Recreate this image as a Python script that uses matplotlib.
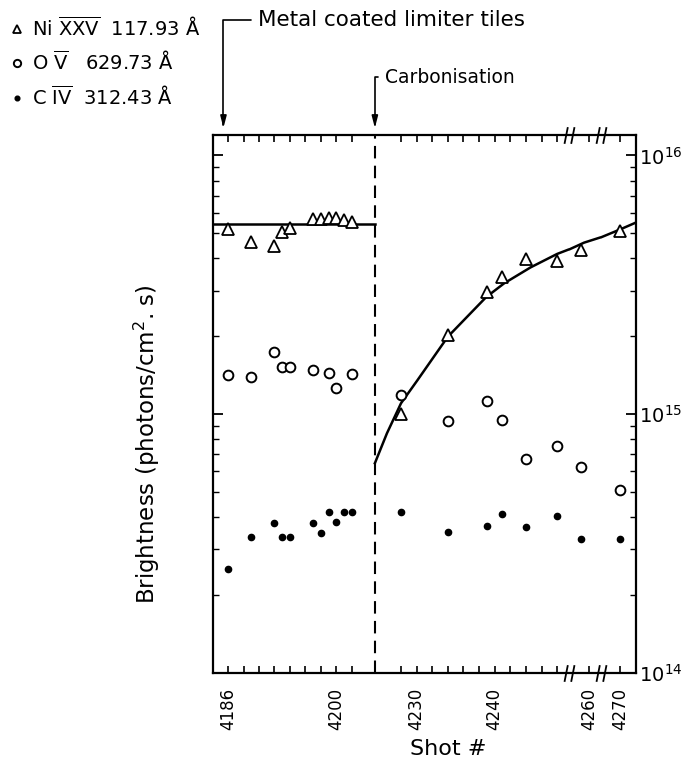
import numpy as np
import matplotlib
matplotlib.use("Agg")
import matplotlib.pyplot as plt
from matplotlib.path import Path
from matplotlib.ticker import FixedLocator, FixedFormatter, LogLocator, NullFormatter

# ---- data (shot number, brightness in photons/cm2.s) ----
ni_shots = [4186, 4189, 4192, 4193, 4194, 4197, 4198, 4199, 4200, 4201, 4202,
            4228, 4234, 4239, 4241, 4244, 4248, 4259, 4270]
ni_vals = [5.18e15, 4.64e15, 4.48e15, 5.05e15, 5.26e15, 5.68e15, 5.68e15, 5.75e15,
           5.72e15, 5.63e15, 5.54e15,
           1.00e15, 2.02e15, 2.97e15, 3.40e15, 3.98e15, 3.91e15, 4.31e15, 5.12e15]

ov_shots = [4186, 4189, 4192, 4193, 4194, 4197, 4199, 4200, 4202,
            4228, 4234, 4239, 4241, 4244, 4248, 4259, 4270]
ov_vals = [1.42e15, 1.39e15, 1.73e15, 1.52e15, 1.52e15, 1.48e15, 1.44e15, 1.26e15, 1.43e15,
           1.18e15, 9.4e14, 1.12e15, 9.5e14, 6.7e14, 7.5e14, 6.25e14, 5.1e14]

civ_shots = [4186, 4189, 4192, 4193, 4194, 4197, 4198, 4199, 4200, 4201, 4202,
             4228, 4234, 4239, 4241, 4244, 4248, 4259, 4270]
civ_vals = [2.51e14, 3.35e14, 3.78e14, 3.35e14, 3.35e14, 3.78e14, 3.47e14, 4.18e14,
            3.82e14, 4.18e14, 4.18e14,
            4.19e14, 3.50e14, 3.69e14, 4.10e14, 3.67e14, 4.03e14, 3.29e14, 3.29e14]

# hand-drawn trend after carbonisation
fit_shots = [4205, 4226.2, 4228, 4230.1, 4234, 4238.9, 4241.2, 4244.6, 4248,
             4249.5, 4257.5, 4259.4, 4261.5, 4267.5, 4270, 4272.1]
fit_vals = [6.45e14, 8.42e14, 1.10e15, 1.35e15, 1.99e15, 2.83e15, 3.20e15, 3.69e15, 4.16e15,
            4.33e15, 4.33e15, 4.60e15, 4.82e15, 4.82e15, 5.18e15, 5.52e15]

ni_metal_level = 5.42e15
carbonisation_shot = 4205
metal_start_shot = 4185.4

tick_shots = list(range(4186, 4203, 2)) + list(range(4228, 4249, 2)) + [4260, 4270]
labelled = {4186: "4186", 4200: "4200", 4230: "4230", 4240: "4240", 4260: "4260", 4270: "4270"}
break_shots = [4253.5, 4264.5]

# ---- broken shot axis: piecewise linear scale ----
knot_shots = [4184.0, 4205.0, 4225.0, 4249.5, 4257.5, 4261.5, 4267.5, 4272.1]
knot_pos = [212.2, 374.3, 377.0, 568.1, 568.5, 599.7, 600.1, 636.0]


def forward(x):
    return np.interp(x, knot_shots, knot_pos)


def inverse(p):
    return np.interp(p, knot_pos, knot_shots)


plt.rcParams['font.family'] = ['DejaVu Sans']

fig = plt.figure(figsize=(6.83, 7.67), dpi=100)
ax = fig.add_axes([0.3119, 0.1232, 0.6193, 0.7008])
ax.set_xscale('function', functions=(forward, inverse))
ax.set_yscale('log')
ax.set_xlim(4184.05, 4272.0)
ax.set_ylim(1e14, 1.2e16)

ax.plot(ni_shots, ni_vals, ls='none', marker='^', ms=8, mfc='white', mec='k', mew=1.3,
        label=r"Ni $\overline{\mathrm{XXV}}$  117.93 Å", zorder=3)
ax.plot(ov_shots, ov_vals, ls='none', marker='o', ms=7, mfc='white', mec='k', mew=1.4,
        label=r"O $\overline{\mathrm{V}}$   629.73 Å", zorder=3)
ax.plot(civ_shots, civ_vals, ls='none', marker='o', ms=4.5, mfc='k', mec='k',
        label=r"C $\overline{\mathrm{IV}}$  312.43 Å", zorder=3)

ax.plot(fit_shots, fit_vals, color='k', lw=1.8, zorder=2)
ax.plot([4184.05, carbonisation_shot], [ni_metal_level, ni_metal_level], color='k', lw=1.8, zorder=2)
ax.axvline(carbonisation_shot, color='k', lw=1.5, ls=(0, (6, 3.5)), zorder=1)

# axis break marks
slash = Path([(-3, -5), (-1, 5), (1, -5), (3, 5)],
             [Path.MOVETO, Path.LINETO, Path.MOVETO, Path.LINETO])
for b in break_shots:
    ax.plot([b, b], [0, 1], transform=ax.get_xaxis_transform(), ls='none', marker=slash,
            ms=12, mew=1.3, color='k', fillstyle='none', clip_on=False, zorder=5)

# ticks
ax.xaxis.set_major_locator(FixedLocator(tick_shots))
ax.xaxis.set_major_formatter(FixedFormatter([labelled.get(t, "") for t in tick_shots]))
ax.xaxis.set_minor_locator(FixedLocator([]))
ax.tick_params(axis='x', which='major', direction='in', top=True, bottom=True,
               length=5, width=1.2, labelsize=12, labelrotation=90, pad=11)
ax.yaxis.set_major_locator(LogLocator(base=10))
ax.yaxis.set_minor_locator(LogLocator(base=10, subs=np.arange(2, 10)))
ax.yaxis.set_minor_formatter(NullFormatter())
ax.tick_params(axis='y', which='both', direction='in', left=True, right=True,
               labelleft=False, labelright=True)
ax.tick_params(axis='y', which='major', length=7, width=1.3, labelsize=14, pad=2)
ax.tick_params(axis='y', which='minor', length=4, width=1.0)
for s in ax.spines.values():
    s.set_linewidth(1.6)

ax.set_xlabel("Shot #", fontsize=16)
ax.xaxis.set_label_coords(0.556, -0.124)
ax.set_ylabel("Brightness (photons/cm$^2$. s)", fontsize=16.5)
ax.yaxis.set_label_coords(-0.12, 0.425)

# annotations
arrow = dict(arrowstyle='-|>,head_length=0.7,head_width=0.18', color='k', lw=1.2,
             connectionstyle='angle,angleA=0,angleB=90,rad=0', relpos=(0, 0.5),
             shrinkA=3, shrinkB=0, mutation_scale=10)
ax.annotate("Metal coated limiter tiles", xy=(metal_start_shot, 1.013),
            xycoords=('data', 'axes fraction'), xytext=(0.3777, 0.974),
            textcoords='figure fraction', fontsize=15.5, va='center', ha='left',
            arrowprops=arrow)
ax.annotate("Carbonisation", xy=(carbonisation_shot, 1.013),
            xycoords=('data', 'axes fraction'), xytext=(0.5637, 0.8996),
            textcoords='figure fraction', fontsize=13.5, va='center', ha='left',
            arrowprops=arrow)

ax.legend(loc='upper left', bbox_to_anchor=(-0.007, 1.0), bbox_transform=fig.transFigure,
          frameon=False, fontsize=14, markerscale=0.75, handlelength=0.6,
          handletextpad=0.5, labelspacing=0.55, borderpad=0.3)

fig.savefig("out.png", dpi=100)
